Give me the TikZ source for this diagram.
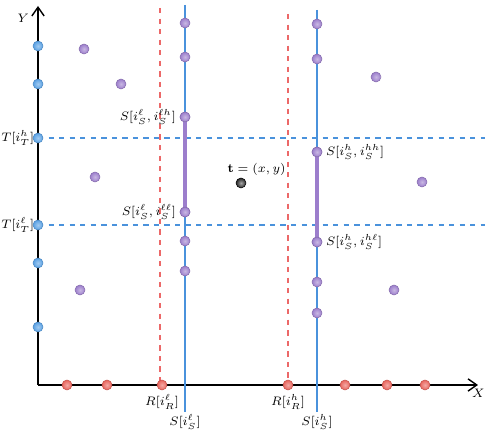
\documentclass[tikz,border=0pt]{standalone}
\usepackage{amsmath, amssymb}
\usetikzlibrary{arrows.meta, positioning}
\definecolor{LineBlue}{RGB}{74, 146, 220}
\definecolor{DotBlue}{RGB}{88, 160, 228}
\definecolor{DotRed}{RGB}{232, 100, 92}
\definecolor{DotPurple}{RGB}{156, 126, 204}
\definecolor{DashRed}{RGB}{236, 104, 104}

\begin{document}
\begin{tikzpicture}[x=0.02cm, y=-0.02cm, >={Straight Barb[length=5pt, width=7pt]}, font=\scriptsize,
    dot/.style={circle, inner sep=0pt, minimum size=0.2cm},
    tdot/.style={dot, draw=DotBlue!85!black, line width=0.3pt, inner color=DotBlue!55!white, outer color=DotBlue},
    rdot/.style={dot, draw=DotRed!85!black, line width=0.3pt, inner color=DotRed!55!white, outer color=DotRed},
    sdot/.style={dot, draw=DotPurple!85!black, line width=0.3pt, inner color=DotPurple!55!white, outer color=DotPurple},
    tag/.style={inner sep=1pt},
    gridline/.style={LineBlue, dashed, line width=0.6pt},
    splitline/.style={DashRed, dashed, line width=0.6pt},
    runline/.style={LineBlue, line width=0.7pt},
    span/.style={DotPurple, line width=2.2pt}]
      \useasboundingbox (0,0) rectangle (485,431);

      % Axes
      \coordinate (origin) at (38,385);
      \coordinate (xend) at (478,385);
      \coordinate (yend) at (38,6);
      \draw[->, line width=0.8pt] (origin) -- (xend);
      \draw[->, line width=0.8pt] (origin) -- (yend);
      \node[tag, below left=1pt and -5pt of xend] (xlab) {$X$};
      \node[tag, left=4pt of yend, yshift=-7pt] (ylab) {$Y$};

      % Dashed split lines
      \coordinate (hT) at (38,138);
      \coordinate (lT) at (38,225);
      \coordinate (hTend) at (485,138);
      \coordinate (lTend) at (485,225);
      \draw[gridline] (hT) -- (hTend);
      \draw[gridline] (lT) -- (lTend);
      \coordinate (lRtop) at (160,8);
      \coordinate (hRtop) at (288,14);
      \draw[splitline] (lRtop) -- (160,385);
      \draw[splitline] (hRtop) -- (288,385);

      % S columns
      \coordinate (lStop) at (185,5);
      \coordinate (lSbot) at (185,412);
      \coordinate (hStop) at (317,10);
      \coordinate (hSbot) at (317,412);
      \draw[runline] (lStop) -- (lSbot);
      \draw[runline] (hStop) -- (hSbot);
      \node[tag, below=0pt of lSbot] (lSlab) {$S[i_S^{\ell}]$};
      \node[tag, below=0pt of hSbot] (hSlab) {$S[i_S^{h}]$};

      % T points
      \foreach \y in {46, 84, 263, 327}
        \node[tdot] at (38,\y) {};
      \node[tdot] (tH) at (hT) {};
      \node[tdot] (tL) at (lT) {};
      \node[inner sep=0pt, left=-1pt of tH] {$T[i_T^{h}]$};
      \node[inner sep=0pt, left=-1pt of tL] {$T[i_T^{\ell}]$};

      % R points
      \foreach \x in {67, 107, 345, 387, 425}
        \node[rdot] at (\x,385) {};
      \node[rdot] (rL) at (162,385) {};
      \node[rdot] (rH) at (288,385) {};
      \node[tag, below=1pt of rL] {$R[i_R^{\ell}]$};
      \node[tag, below=1pt of rH] {$R[i_R^{h}]$};

      % S points on the columns
      \node[sdot] (sLH) at (185,117) {};
      \node[sdot] (sLL) at (185,212) {};
      \node[sdot] (sHH) at (317,152) {};
      \node[sdot] (sHL) at (317,242) {};
      \draw[span] (sLH) -- (sLL);
      \draw[span] (sHH) -- (sHL);
      \node[sdot] at (sLH) {};
      \node[sdot] at (sLL) {};
      \node[sdot] at (sHH) {};
      \node[sdot] at (sHL) {};
      \foreach \y in {23, 57, 241, 271}
        \node[sdot] at (185,\y) {};
      \foreach \y in {24, 59, 282, 313}
        \node[sdot] at (317,\y) {};
      \node[tag, left=1pt of sLH] {$S[i_S^{\ell}, i_S^{\ell h}]$};
      \node[tag, left=1pt of sLL] {$S[i_S^{\ell}, i_S^{\ell\ell}]$};
      \node[tag, right=1pt of sHH] {$S[i_S^{h}, i_S^{hh}]$};
      \node[tag, right=1pt of sHL] {$S[i_S^{h}, i_S^{h\ell}]$};

      % other S points
      \foreach \x/\y in {84/49, 121/84, 95/177, 80/290, 376/77, 422/182, 394/290}
        \node[sdot] at (\x,\y) {};

      % query point
      \node[dot, draw=black, line width=0.3pt, inner color=gray!70, outer color=black!85] (query) at (241,183) {};
      \node[tag, above right=1pt and -11pt of query] (qlab) {$\mathbf{t} = (x, y)$};
    \end{tikzpicture}
\end{document}
